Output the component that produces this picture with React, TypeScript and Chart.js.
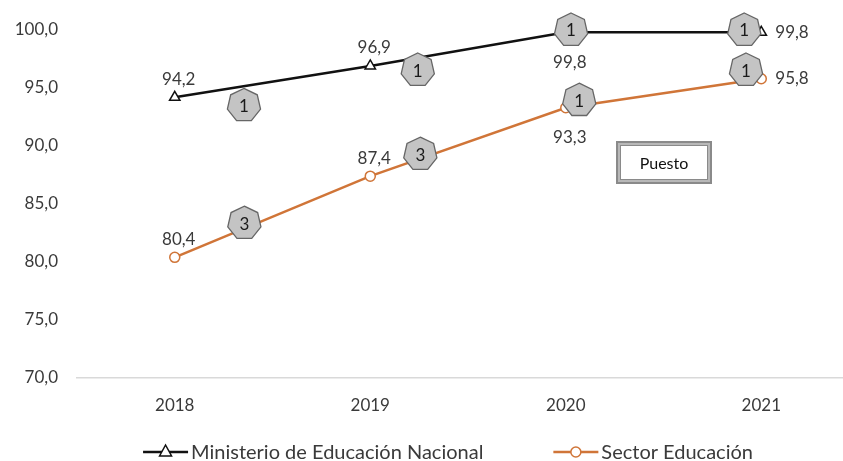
import React, { useEffect, useRef } from "react";
import { Chart, registerables } from "chart.js";
Chart.register(...registerables);

const years = [2018, 2019, 2020, 2021];
const ministerioValues = [94.2, 96.9, 99.8, 99.8];
const sectorValues = [80.4, 87.4, 93.3, 95.8];
const ministerioLabelPos = ["top", "top", "bottom", "right"];
const sectorLabelPos = ["top", "top", "bottom", "right"];
const yTicks = [70, 75, 80, 85, 90, 95, 100];

// "Puesto" (rank) badges, placed in data coordinates
const ministerioBadgeYears = [2018.354, 2019.243, 2020.027, 2020.913];
const ministerioBadgeValues = [93.5, 96.55, 100, 100];
const ministerioRanks = [1, 1, 1, 1];
const sectorBadgeYears = [2018.356, 2019.256, 2020.069, 2020.922];
const sectorBadgeValues = [83.35, 89.3, 93.95, 96.55];
const sectorRanks = [3, 3, 1, 1];

const FONT = "Lato, 'Liberation Sans', sans-serif";
const BLACK = "#111111";
const ORANGE = "#D07538";
const TEXT = "#3a3a3a";

const fmt = (v: number) => v.toFixed(1).replace(".", ",");

function drawHeptagon(ctx: CanvasRenderingContext2D, x: number, y: number, r: number, label: string) {
  ctx.save();
  ctx.beginPath();
  for (let k = 0; k < 7; k++) {
    const a = -Math.PI / 2 + (k * 2 * Math.PI) / 7;
    const px = x + r * Math.cos(a);
    const py = y + r * Math.sin(a);
    if (k === 0) ctx.moveTo(px, py);
    else ctx.lineTo(px, py);
  }
  ctx.closePath();
  ctx.fillStyle = "#C4C4C4";
  ctx.fill();
  ctx.lineWidth = 1.3;
  ctx.strokeStyle = "#666666";
  ctx.stroke();
  ctx.fillStyle = "#1a1a1a";
  ctx.font = `17px ${FONT}`;
  ctx.textAlign = "center";
  ctx.textBaseline = "middle";
  ctx.fillText(label, x, y + 1);
  ctx.restore();
}

const overlayPlugin = {
  id: "overlay",
  afterDatasetsDraw(chart: any) {
    const ctx: CanvasRenderingContext2D = chart.ctx;
    const xs = chart.scales.x;
    const ys = chart.scales.y;
    const badgeSets = [
      { xv: ministerioBadgeYears, yv: ministerioBadgeValues, r: ministerioRanks },
      { xv: sectorBadgeYears, yv: sectorBadgeValues, r: sectorRanks },
    ];
    badgeSets.forEach((b) => {
      b.xv.forEach((xv, i) => {
        drawHeptagon(ctx, xs.getPixelForValue(xv), ys.getPixelForValue(b.yv[i]), 17, String(b.r[i]));
      });
    });

    // data labels
    const posSets = [ministerioLabelPos, sectorLabelPos];
    chart.data.datasets.forEach((ds: any, di: number) => {
      const meta = chart.getDatasetMeta(di);
      meta.data.forEach((pt: any, i: number) => {
        const v = ds.data[i].y;
        const pos = posSets[di][i];
        ctx.save();
        ctx.font = `17px ${FONT}`;
        ctx.fillStyle = TEXT;
        ctx.textBaseline = "middle";
        let tx = pt.x;
        let ty = pt.y;
        if (pos === "top") {
          ctx.textAlign = "center";
          tx += 4;
          ty -= 18;
        } else if (pos === "bottom") {
          ctx.textAlign = "center";
          tx += 4;
          ty += 30;
        } else {
          ctx.textAlign = "left";
          tx += 14;
        }
        ctx.fillText(fmt(v), tx, ty);
        ctx.restore();
      });
    });
  },
  afterDraw(chart: any) {
    const ctx: CanvasRenderingContext2D = chart.ctx;
    // "Puesto" box
    const bx = 616, by = 141, bw = 96, bh = 43;
    ctx.save();
    ctx.fillStyle = "#8a8a8a";
    ctx.fillRect(bx, by, bw, bh);
    ctx.fillStyle = "#b8b8b8";
    ctx.fillRect(bx + 2, by + 2, bw - 4, bh - 4);
    ctx.fillStyle = "#8a8a8a";
    ctx.fillRect(bx + 4, by + 4, bw - 8, bh - 8);
    ctx.fillStyle = "#ffffff";
    ctx.fillRect(bx + 5, by + 5, bw - 10, bh - 10);
    ctx.fillStyle = "#111111";
    ctx.font = `16px ${FONT}`;
    ctx.textAlign = "center";
    ctx.textBaseline = "middle";
    ctx.fillText("Puesto", bx + bw / 2, by + bh / 2 + 1);
    ctx.restore();

    // legend
    const items = chart.data.datasets.map((ds: any) => ({
      label: ds.label,
      color: ds.borderColor,
      style: ds.pointStyle,
    }));
    ctx.save();
    ctx.font = `20px ${FONT}`;
    const markerW = 45;
    const gap = 3;
    const spacing = 70;
    const widths = items.map((it: any) => markerW + gap + ctx.measureText(it.label).width);
    const total = widths.reduce((a: number, b: number) => a + b, 0) + spacing * (items.length - 1);
    let x = 448 - total / 2;
    const ly = 452;
    items.forEach((it: any, i: number) => {
      ctx.strokeStyle = it.color;
      ctx.lineWidth = 2.5;
      ctx.beginPath();
      ctx.moveTo(x, ly);
      ctx.lineTo(x + markerW, ly);
      ctx.stroke();
      const cx = x + markerW / 2;
      ctx.fillStyle = "#ffffff";
      ctx.lineWidth = 1.5;
      ctx.beginPath();
      if (it.style === "triangle") {
        ctx.moveTo(cx, ly - 7);
        ctx.lineTo(cx + 6, ly + 4);
        ctx.lineTo(cx - 6, ly + 4);
        ctx.closePath();
      } else {
        ctx.arc(cx, ly, 5, 0, Math.PI * 2);
      }
      ctx.fill();
      ctx.stroke();
      ctx.fillStyle = TEXT;
      ctx.textAlign = "left";
      ctx.textBaseline = "middle";
      ctx.fillText(it.label, x + markerW + gap, ly + 1);
      x += widths[i] + spacing;
    });
    ctx.restore();
  },
};

export default function App() {
  const ref = useRef<HTMLCanvasElement | null>(null);
  useEffect(() => {
    if (!ref.current) return;
    const chart = new Chart(ref.current, {
      type: "line",
      data: {
        datasets: [
          {
            label: "Ministerio de Educación Nacional",
            data: years.map((y, i) => ({ x: y, y: ministerioValues[i] })),
            borderColor: BLACK,
            backgroundColor: "#ffffff",
            borderWidth: 2.5,
            pointStyle: "triangle",
            pointRadius: 6,
            pointBorderWidth: 1.5,
            pointBackgroundColor: "#ffffff",
            pointBorderColor: BLACK,
            tension: 0,
            clip: false,
          },
          {
            label: "Sector Educación",
            data: years.map((y, i) => ({ x: y, y: sectorValues[i] })),
            borderColor: ORANGE,
            backgroundColor: "#ffffff",
            borderWidth: 2.5,
            pointStyle: "circle",
            pointRadius: 5,
            pointBorderWidth: 1.5,
            pointBackgroundColor: "#ffffff",
            pointBorderColor: ORANGE,
            tension: 0,
            clip: false,
          },
        ],
      },
      options: {
        responsive: false,
        animation: false,
        layout: { autoPadding: false, padding: { top: 30, left: 13, right: 0, bottom: 28.6 } },
        plugins: {
          legend: { display: false },
          tooltip: { enabled: false },
        },
        scales: {
          x: {
            type: "linear",
            min: 2017.5,
            max: 2021.418,
            afterBuildTicks: (scale: any) => {
              scale.ticks = years.map((v) => ({ value: v }));
            },
            afterFit: (scale: any) => {
              scale.paddingLeft = 0;
              scale.paddingRight = 0;
            },
            grid: { display: false, drawTicks: false },
            border: { display: true, color: "#D9D9D9", width: 1.5 },
            ticks: {
              padding: 17,
              color: TEXT,
              font: { family: FONT, size: 17 },
              callback: (v: any) => String(v),
            },
          },
          y: {
            min: 70,
            max: 100,
            afterBuildTicks: (scale: any) => {
              scale.ticks = yTicks.map((v) => ({ value: v }));
            },
            afterFit: (scale: any) => {
              scale.width = 64;
            },
            grid: { display: false, drawTicks: false },
            border: { display: false },
            ticks: {
              padding: 19,
              color: TEXT,
              font: { family: FONT, size: 17 },
              callback: (v: any) => fmt(Number(v)),
            },
          },
        },
      },
      plugins: [overlayPlugin],
    } as any);
    return () => chart.destroy();
  }, []);
  return (
    <div style={{ position: "absolute", left: 0, top: 0, width: 843, height: 461, background: "#fff" }}>
      <canvas ref={ref} width={843} height={461} />
    </div>
  );
}
